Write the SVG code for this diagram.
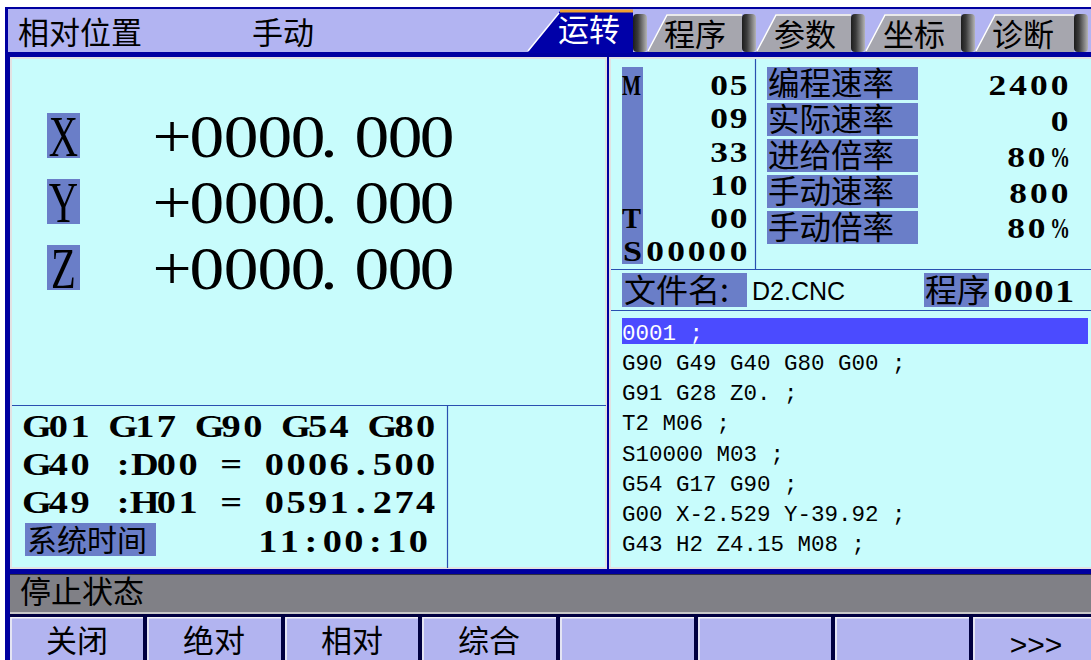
<svg xmlns="http://www.w3.org/2000/svg" width="1091" height="660" viewBox="0 0 1091 660">
<defs>
<linearGradient id="sep" x1="0" y1="0" x2="1" y2="0">
<stop offset="0" stop-color="#1c1c1c"/>
<stop offset="0.35" stop-color="#3c3c3c"/>
<stop offset="1" stop-color="#b4b4b4"/>
</linearGradient>
<style>
.cjk{font-family:"Noto Sans CJK SC","Noto Sans CJK JP",sans-serif;fill:#000}
.bs{font-family:"Liberation Serif",serif;font-weight:bold;fill:#000;text-anchor:middle}
.ser{font-family:"Liberation Serif",serif;fill:#000;text-anchor:middle}
.mono{font-family:"Liberation Mono",monospace;font-size:22.5px;fill:#000}
.lbl{fill:#6A7EC8}
.tab{fill:#A6A6AE}
.hl{fill:none;stroke:#ffffff;stroke-width:1.5}
.blk{fill:url(#sep)}
.line{stroke:#2A4FB0;stroke-width:1.2;fill:none}
.panel{fill:#C8FCFC;stroke:#E2E2E2;stroke-width:2}
.btn{fill:#B2B4F0}
</style>
</defs>
<rect width="1091" height="660" fill="#ffffff"/>
<rect x="5" y="7" width="1086" height="653" fill="#0000A0"/>

<g id="header">
<rect x="8" y="9" width="1083" height="43" fill="#B2B4F2"/>
<text class="cjk" x="18" y="44" font-size="31">相对位置</text>
<text class="cjk" x="252" y="44" font-size="31">手动</text>
</g>

<g id="tabs">
<polygon points="527,53 560,11 633,11 633,53" fill="#0000A8"/>
<line x1="560" y1="11" x2="633" y2="11" stroke="#F0A030" stroke-width="3"/>
<line x1="528" y1="51" x2="559" y2="13" stroke="#ffffff" stroke-width="1.5"/>
<text class="cjk" x="589" y="41" font-size="31" text-anchor="middle" style="fill:#fff">运转</text>

<polygon class="tab" points="647,52 667,14 742,14 742,52"/>
<polyline class="hl" points="648,51 667,15 742,15"/>
<text class="cjk" x="695" y="46" font-size="31" text-anchor="middle">程序</text>

<polygon class="tab" points="756,52 776,14 851,14 851,52"/>
<polyline class="hl" points="757,51 776,15 851,15"/>
<text class="cjk" x="805" y="46" font-size="31" text-anchor="middle">参数</text>

<polygon class="tab" points="865,52 885,14 961,14 961,52"/>
<polyline class="hl" points="866,51 885,15 961,15"/>
<text class="cjk" x="914" y="46" font-size="31" text-anchor="middle">坐标</text>

<polygon class="tab" points="975,52 995,14 1074,14 1074,52"/>
<polyline class="hl" points="976,51 995,15 1074,15"/>
<text class="cjk" x="1023" y="46" font-size="31" text-anchor="middle">诊断</text>

<rect class="blk" x="633" y="14" width="14" height="38" rx="4"/>
<rect class="blk" x="742" y="14" width="14" height="38" rx="4"/>
<rect class="blk" x="851" y="14" width="14" height="38" rx="4"/>
<rect class="blk" x="961" y="14" width="14" height="38" rx="4"/>
<rect class="blk" x="1074" y="14" width="14" height="38" rx="4"/>
</g>

<g id="left-panel">
<rect class="panel" x="11" y="58" width="595" height="510"/>
<line class="line" x1="12" y1="405.5" x2="606" y2="405.5"/>
<line class="line" x1="447.5" y1="405" x2="447.5" y2="568"/>
</g>

<g id="axis-x">
<rect class="lbl" x="47" y="113" width="33" height="45"/>
<text class="ser" transform="translate(63.5,156) scale(0.7,1)" font-size="58">X</text>
<text class="ser" transform="translate(0,157) scale(1.12,1)" font-size="62" x="153.6 184.8 215.2 245.5 275 293.8 332.1 361.6 390.2">+0000.000</text>
</g>
<g id="axis-y">
<rect class="lbl" x="47" y="179" width="33" height="45"/>
<text class="ser" transform="translate(63.5,222) scale(0.7,1)" font-size="58">Y</text>
<text class="ser" transform="translate(0,223) scale(1.12,1)" font-size="62" x="153.6 184.8 215.2 245.5 275 293.8 332.1 361.6 390.2">+0000.000</text>
</g>
<g id="axis-z">
<rect class="lbl" x="47" y="245" width="33" height="45"/>
<text class="ser" transform="translate(63.5,288) scale(0.7,1)" font-size="58">Z</text>
<text class="ser" transform="translate(0,289) scale(1.12,1)" font-size="62" x="153.6 184.8 215.2 245.5 275 293.8 332.1 361.6 390.2">+0000.000</text>
</g>

<g id="modal-info">
<g transform="scale(1.18,1)">
<text class="bs" font-size="32.5" y="437" x="31.19 49.49 67.8 86.1 104.41 122.71 141.02 159.32 177.63 195.93 214.24 232.54 250.85 269.15 287.46 305.76 324.07 342.37 360.68">G01 G17 G90 G54 G80</text>
<text class="bs" font-size="32.5" y="475" x="31.19 49.49 67.8 86.1 104.41 122.71 141.02 159.32 177.63 195.93 214.24 232.54 250.85 269.15 287.46 305.76 324.07 342.37 360.68">G40 :D00 = 0006.500</text>
<text class="bs" font-size="32.5" y="513" x="31.19 49.49 67.8 86.1 104.41 122.71 141.02 159.32 177.63 195.93 214.24 232.54 250.85 269.15 287.46 305.76 324.07 342.37 360.68">G49 :H01 = 0591.274</text>
<text class="bs" font-size="32.5" y="552" x="226.95 245.17 263.39 281.61 299.83 318.05 336.27 354.49">11:00:10</text>
</g>
<rect class="lbl" x="25" y="523" width="131" height="33"/>
<text class="cjk" x="27" y="551" font-size="30">系统时间</text>
</g>

<g id="right-panel">
<rect class="panel" x="610" y="58" width="482" height="510"/>
<line class="line" x1="755.5" y1="59" x2="755.5" y2="269"/>
<line class="line" x1="611" y1="269.5" x2="1091" y2="269.5"/>
<line class="line" x1="611" y1="310.5" x2="1091" y2="310.5"/>
</g>

<g id="mst">
<rect class="lbl" x="622" y="67" width="21" height="197"/>
<text class="bs" style="text-anchor:start" x="622" y="95" font-size="30" textLength="19" lengthAdjust="spacingAndGlyphs">M</text>
<text class="bs" style="text-anchor:start" x="622" y="228" font-size="30" textLength="19" lengthAdjust="spacingAndGlyphs">T</text>
<text class="bs" style="text-anchor:start" x="623" y="261" font-size="30" textLength="19" lengthAdjust="spacingAndGlyphs">S</text>
<g transform="scale(1.18,1)">
<text class="bs" font-size="30" y="95" x="609.32 625.85">05</text>
<text class="bs" font-size="30" y="128" x="609.32 625.85">09</text>
<text class="bs" font-size="30" y="162" x="609.32 625.85">33</text>
<text class="bs" font-size="30" y="195" x="609.32 625.85">10</text>
<text class="bs" font-size="30" y="228" x="609.32 625.85">00</text>
<text class="bs" font-size="30" y="261" x="555.08 572.88 590.25 607.63 625.85">00000</text>
</g>
</g>

<g id="rates">
<rect class="lbl" x="767" y="67" width="151" height="33"/>
<rect class="lbl" x="767" y="103" width="151" height="33"/>
<rect class="lbl" x="767" y="139" width="151" height="33"/>
<rect class="lbl" x="767" y="175" width="151" height="33"/>
<rect class="lbl" x="767" y="211" width="151" height="33"/>
<text class="cjk" x="768" y="95" font-size="31.5">编程速率</text>
<text class="cjk" x="768" y="131" font-size="31.5">实际速率</text>
<text class="cjk" x="768" y="167" font-size="31.5">进给倍率</text>
<text class="cjk" x="768" y="203" font-size="31.5">手动速率</text>
<text class="cjk" x="768" y="239" font-size="31.5">手动倍率</text>
<g transform="scale(1.18,1)">
<text class="bs" font-size="30" y="95" x="845.25 862.8 880.42 897.97">2400</text>
<text class="bs" font-size="30" y="131" x="897.97">0</text>
<text class="bs" font-size="30" y="167" x="861.02 878.39">80</text>
<text class="bs" font-size="30" y="203" x="862.8 880.42 897.97">800</text>
<text class="bs" font-size="30" y="238" x="861.02 878.39">80</text>
</g>
<text class="bs" style="text-anchor:start" font-size="30" y="167" x="1050" textLength="20" lengthAdjust="spacingAndGlyphs">%</text>
<text class="bs" style="text-anchor:start" font-size="30" y="238" x="1050" textLength="20" lengthAdjust="spacingAndGlyphs">%</text>
</g>

<g id="file-row">
<rect class="lbl" x="622" y="273" width="125" height="34"/>
<text class="cjk" x="624" y="302" font-size="32">文件名:</text>
<text x="752" y="300" font-family="Liberation Sans, Arial, sans-serif" font-size="25" fill="#000">D2.CNC</text>
<rect class="lbl" x="924" y="273" width="65" height="34"/>
<text class="cjk" x="925" y="302" font-size="32">程序</text>
<g transform="scale(1.18,1)">
<text class="bs" font-size="32.5" y="302" x="850 867.37 884.75 902.12">0001</text>
</g>
</g>

<g id="program-list">
<rect x="622" y="318" width="466" height="26" fill="#4B4BFF"/>
<text class="mono" x="622" y="340" style="fill:#fff">0001 ;</text>
<text class="mono" x="622" y="370">G90 G49 G40 G80 G00 ;</text>
<text class="mono" x="622" y="400">G91 G28 Z0. ;</text>
<text class="mono" x="622" y="430">T2 M06 ;</text>
<text class="mono" x="622" y="461">S10000 M03 ;</text>
<text class="mono" x="622" y="491">G54 G17 G90 ;</text>
<text class="mono" x="622" y="521">G00 X-2.529 Y-39.92 ;</text>
<text class="mono" x="622" y="551">G43 H2 Z4.15 M08 ;</text>
</g>

<g id="status-bar">
<rect x="10" y="574" width="1081" height="39" fill="#808086"/>
<line x1="10" y1="574.5" x2="1091" y2="574.5" stroke="#303040" stroke-width="1"/>
<line x1="10" y1="613" x2="1091" y2="613" stroke="#C8C8C8" stroke-width="2"/>
<text class="cjk" x="20" y="603" font-size="31">停止状态</text>
</g>

<g id="softkeys">
<rect x="10" y="614" width="1081" height="46" fill="#000040"/>
<rect class="btn" x="10" y="617" width="133" height="43"/>
<rect class="btn" x="147" y="617" width="134" height="43"/>
<rect class="btn" x="285" y="617" width="133" height="43"/>
<rect class="btn" x="422" y="617" width="134" height="43"/>
<rect class="btn" x="560" y="617" width="134" height="43"/>
<rect class="btn" x="698" y="617" width="133" height="43"/>
<rect class="btn" x="835" y="617" width="134" height="43"/>
<rect class="btn" x="973" y="617" width="118" height="43"/>
<g fill="none" stroke="#F4F4F4" stroke-width="1.5">
<polyline points="11,660 11,617.8 143,617.8"/>
<polyline points="148,660 148,617.8 281,617.8"/>
<polyline points="286,660 286,617.8 418,617.8"/>
<polyline points="423,660 423,617.8 556,617.8"/>
<polyline points="561,660 561,617.8 694,617.8"/>
<polyline points="699,660 699,617.8 831,617.8"/>
<polyline points="836,660 836,617.8 969,617.8"/>
<polyline points="974,660 974,617.8 1091,617.8"/>
</g>
<text class="cjk" x="77" y="652" font-size="31" text-anchor="middle">关闭</text>
<text class="cjk" x="214" y="652" font-size="31" text-anchor="middle">绝对</text>
<text class="cjk" x="352" y="652" font-size="31" text-anchor="middle">相对</text>
<text class="cjk" x="489" y="652" font-size="31" text-anchor="middle">综合</text>
<text x="1036" y="655" font-family="Liberation Sans, Arial, sans-serif" font-size="30" text-anchor="middle" fill="#000">&gt;&gt;&gt;</text>
</g>
</svg>
